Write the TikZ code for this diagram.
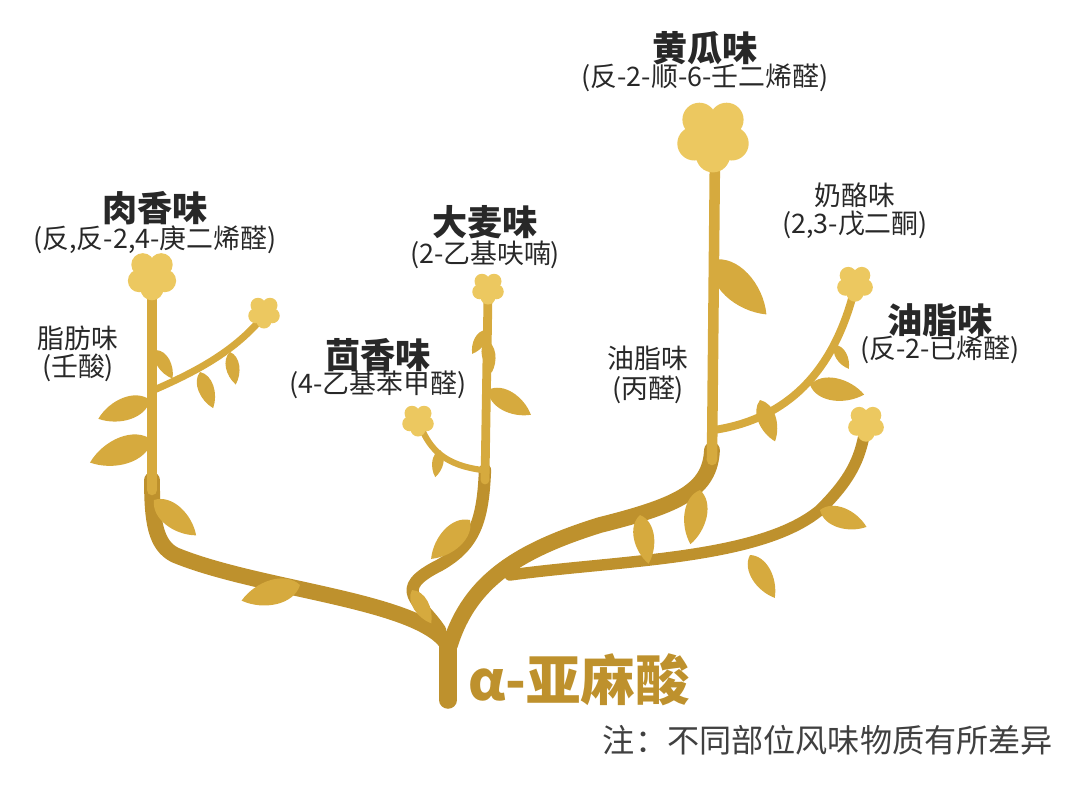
\documentclass[tikz,border=0pt]{standalone}
\usepackage{fontspec}
\newfontfamily\cjk{Noto Sans CJK SC}
\usetikzlibrary{shapes.geometric}
\definecolor{goldA}{RGB}{236,200,96}
\definecolor{goldB}{RGB}{214,170,62}
\definecolor{goldC}{RGB}{190,145,45}
\definecolor{txt}{RGB}{40,40,40}
\tikzset{
  br/.style={draw=goldB,line cap=round,line join=round},
  lbl/.style={font=\cjk\fontsize{15.3}{17}\selectfont,text=txt,align=center},
  hd/.style={font=\cjk\bfseries\fontsize{20}{22}\selectfont,text=txt},
  leaf/.pic={\fill[goldB] (0,0) .. controls (10,16) and (38,14) .. (55,0) .. controls (38,-14) and (10,-16) .. (0,0);},
  flower/.pic={\fill[goldA] (0,0) circle (13) (0,12) circle (10) (11,5) circle (10) (8,-9) circle (10) (-8,-9) circle (10) (-11,5) circle (10);}
}
\begin{document}
\begin{tikzpicture}[x=0.02cm,y=-0.02cm]
\useasboundingbox (0,0) rectangle (1080,789);
\draw[br,goldC,line width=10pt] (448,700) -- (448,640);
\draw[br,goldC,line width=9pt] (448,645) .. controls (420,600) and (260,590) .. (175,555) .. controls (155,545) and (152,520) .. (152,480);
\draw[br,line width=6pt] (152,490) -- (152,290);
\draw[br,line width=4pt] (154,390) .. controls (200,370) and (235,350) .. (262,318);
\draw[br,goldC,line width=7pt] (440,630) .. controls (420,600) and (390,590) .. (440,565) .. controls (475,545) and (483,520) .. (485,470);
\draw[br,line width=5pt] (485,480) -- (488,295);
\draw[br,line width=3.5pt] (482,470) .. controls (445,465) and (430,450) .. (420,425);
\draw[br,goldC,line width=9pt] (450,645) .. controls (470,580) and (520,550) .. (600,525) .. controls (680,505) and (710,490) .. (712,450);
\draw[br,line width=6pt] (712,460) -- (715,150);
\draw[br,line width=4.5pt] (714,430) .. controls (780,420) and (830,380) .. (853,295);
\draw[br,goldC,line width=6.5pt] (510,575) .. controls (620,560) and (760,560) .. (820,510) .. controls (850,480) and (860,460) .. (865,430);
\pic at (150,400) [rotate=200] {leaf};
\pic at (152,440) [rotate=200,scale=1.2] {leaf};
\pic at (154,500) [rotate=-40] {leaf};
\pic at (156,350) [rotate=-60,scale=0.6] {leaf};
\pic at (200,372) [rotate=-70,scale=0.7] {leaf};
\pic at (230,352) [rotate=-80,scale=0.6] {leaf};
\pic at (300,585) [rotate=195,scale=1.1] {leaf};
\pic at (470,520) [rotate=225] {leaf};
\pic at (488,390) [rotate=-30,scale=0.9] {leaf};
\pic at (486,340) [rotate=-80,scale=0.6] {leaf};
\pic at (486,330) [rotate=240,scale=0.5] {leaf};
\pic at (440,450) [rotate=260,scale=0.5] {leaf};
\pic at (640,515) [rotate=-80,scale=0.9] {leaf};
\pic at (700,490) [rotate=-100,scale=1.0] {leaf};
\pic at (712,260) [rotate=-45,scale=1.4] {leaf};
\pic at (760,400) [rotate=-70,scale=0.8] {leaf};
\pic at (810,385) [rotate=-10,scale=1.0] {leaf};
\pic at (835,345) [rotate=-60,scale=0.5] {leaf};
\pic at (750,555) [rotate=-60,scale=0.9] {leaf};
\pic at (820,510) [rotate=-20,scale=0.9] {leaf};
\pic at (412,590) [rotate=-60,scale=0.7] {leaf};
\pic at (152,275) [scale=1.15] {flower};
\pic at (264,312) [scale=0.75] {flower};
\pic at (488,288) [scale=0.75] {flower};
\pic at (418,420) [scale=0.75] {flower};
\pic at (713,135) [scale=1.7] {flower};
\pic at (855,283) [scale=0.85] {flower};
\pic at (866,423) [scale=0.85] {flower};
\node[hd] (t1) at (155,208) {肉香味};
\node[lbl] (s1) at (155,240) {(反,反-2,4-庚二烯醛)};
\node[lbl] (t2) at (78,338) {脂肪味};
\node[lbl] (s2) at (78,368) {(壬酸)};
\node[hd] (t3) at (485,222) {大麦味};
\node[lbl] (s3) at (485,255) {(2-乙基呋喃)};
\node[hd] (t4) at (378,355) {茴香味};
\node[lbl] (s4) at (378,385) {(4-乙基苯甲醛)};
\node[hd] (t5) at (705,48) {黄瓜味};
\node[lbl] (s5) at (705,78) {(反-2-顺-6-壬二烯醛)};
\node[lbl] (t6) at (855,195) {奶酪味};
\node[lbl] (s6) at (855,225) {(2,3-戊二酮)};
\node[lbl] (t7) at (648,358) {油脂味};
\node[lbl] (s7) at (648,390) {(丙醛)};
\node[hd] (t8) at (940,320) {油脂味};
\node[lbl] (s8) at (940,350) {(反-2-已烯醛)};
\node[font=\cjk\bfseries\fontsize{31}{33}\selectfont,text=goldC,anchor=west] (ti) at (462,680) {α-亚麻酸};
\node[font=\cjk\fontsize{18.3}{20}\selectfont,text=black!75] (nt) at (828,740) {注：不同部位风味物质有所差异};
\end{tikzpicture}
\end{document}
